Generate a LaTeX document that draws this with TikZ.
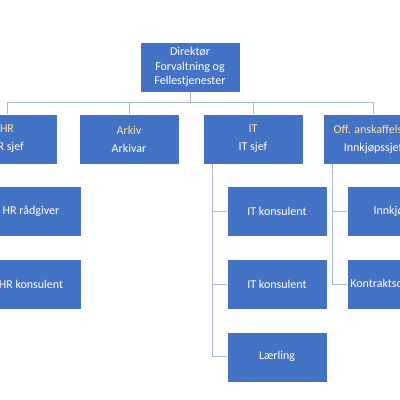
\documentclass[tikz,border=0pt]{standalone}
\usepackage{fontspec}
\setmainfont{Carlito}
\usepackage{xcolor}
\usepackage{tikz}
\usetikzlibrary{positioning}
\definecolor{orgbl}{HTML}{4472C4}
\definecolor{orgln}{HTML}{A6B8DE}
\definecolor{orgtt}{HTML}{FFE699}

\begin{document}
\begin{tikzpicture}[x=1pt, y=-1pt, font=\fontsize{12}{14.2}\selectfont,
  unit/.style={draw=white, line width=0.6pt, fill=orgbl, text=white, align=center, minimum width=100pt, minimum height=50pt, inner sep=2pt},
  lnk/.style={draw=orgln, line width=1pt}]
\useasboundingbox (0,0) rectangle (400,400);
\clip (0,0) rectangle (400,400);
\node[unit] (dir) at (190,67) {Direktør\\ Forvaltning og\\ Fellestjenester};
\node[unit] (hr) at (7,139) {{\color{orgtt}HR}\\[4pt] HR sjef};
\node[unit] (ark) at (129,139) {{\color{orgtt}Arkiv}\\[4pt] Arkivar};
\node[unit] (it) at (253,139) {{\color{orgtt}IT}\\[4pt] IT sjef};
\node[unit] (off) at (373,139) {{\color{orgtt}Off. anskaffelser}\\[4pt] Innkjøpssjef};
\node[unit, below=22pt of hr, xshift=24pt] (hr1) {HR rådgiver};
\node[unit, below=22pt of hr1] (hr2) {HR konsulent};
\node[unit, below=22pt of it, xshift=24pt] (it1) {IT konsulent};
\node[unit, below=22pt of it1] (it2) {IT konsulent};
\node[unit, below=22pt of it2] (it3) {Lærling};
\node[unit, below=22pt of off, xshift=24pt] (off1) {Innkjøper};
\node[unit, below=22pt of off1] (off2) {Kontraktsoppfølger};
% director to units
\draw[lnk] (dir.south) -- ++(0,10) -| (hr.north);
\draw[lnk] (dir.south) -- ++(0,10) -| (ark.north);
\draw[lnk] (dir.south) -- ++(0,10) -| (it.north);
\draw[lnk] (dir.south) -- ++(0,10) -| (off.north);
% units to staff
\draw[lnk] ([xshift=10pt]hr.south west) |- (hr1.west);
\draw[lnk] ([xshift=10pt]hr.south west) |- (hr2.west);
\draw[lnk] ([xshift=10pt]it.south west) |- (it1.west);
\draw[lnk] ([xshift=10pt]it.south west) |- (it2.west);
\draw[lnk] ([xshift=10pt]it.south west) |- (it3.west);
\draw[lnk] ([xshift=10pt]off.south west) |- (off1.west);
\draw[lnk] ([xshift=10pt]off.south west) |- (off2.west);
\end{tikzpicture}
\end{document}
